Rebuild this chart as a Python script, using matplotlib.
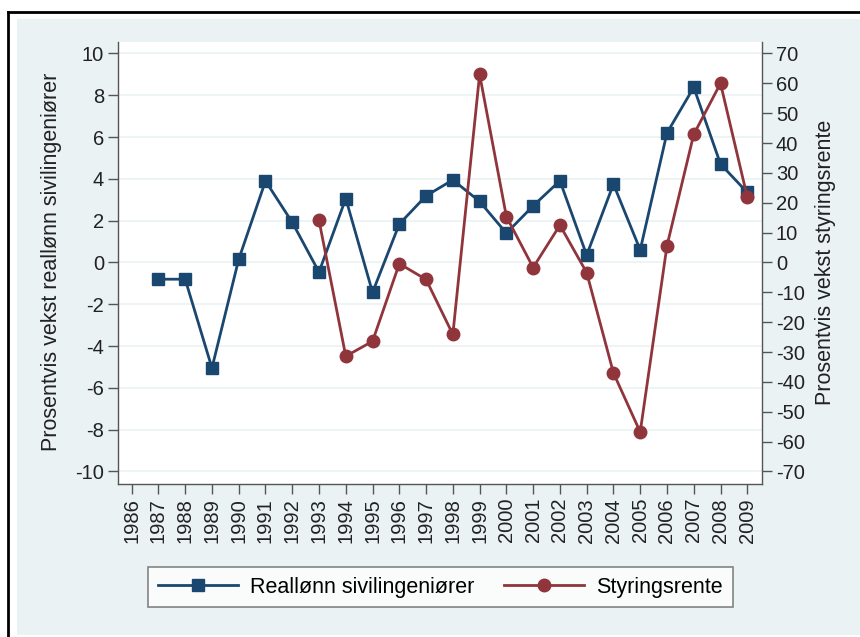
import matplotlib
matplotlib.use('Agg')
import matplotlib.pyplot as plt
from matplotlib.patches import Rectangle
from matplotlib.lines import Line2D

# ---------------- data ----------------
years = list(range(1986, 2010))
wage_years = list(range(1987, 2010))
wage_growth = [-0.8, -0.8, -5.05, 0.15, 3.9, 1.92, -0.46, 3.06, -1.43, 1.84, 3.19,
               3.95, 2.92, 1.4, 2.71, 3.91, 0.35, 3.75, 0.6, 6.2, 8.38, 4.71, 3.35]
rate_years = list(range(1993, 2010))
rate_growth = [14.1, -31.4, -26.4, -0.4, -5.7, -24.1, 63.0, 15.4, -1.7, 12.5, -3.4,
               -37.0, -56.8, 5.6, 42.9, 60.0, 21.9]
left_ticks = list(range(-10, 11, 2))
right_ticks = list(range(-70, 71, 10))
wage_label = "Reallønn sivilingeniører"
rate_label = "Styringsrente"
left_ylabel = "Prosentvis vekst reallønn sivilingeniører"
right_ylabel = "Prosentvis vekst styringsrente"

# ---------------- style ----------------
plt.rcParams['font.family'] = ['Liberation Sans', 'DejaVu Sans']
BLUE = '#1A476F'
RED = '#90353B'
BG = '#EAF2F3'
GRID = '#EAF2F3'
AXC = '#555555'
FS = 14.5
FSL = 15.5

W, H = 860, 637
fig = plt.figure(figsize=(W / 100, H / 100), dpi=100)
fig.patch.set_facecolor('white')

def fx(px):
    return px / W

def fy(py):
    return 1 - py / H

# light background region
fig.patches.append(Rectangle((fx(17), fy(635)), fx(W) - fx(17), fy(19) - fy(635),
                             transform=fig.transFigure, facecolor=BG, edgecolor='none', zorder=0))
# black outer border (top and left visible)
fig.lines.append(Line2D([fx(8), fx(8)], [fy(12), fy(H + 5)], transform=fig.transFigure,
                        color='black', linewidth=2))
fig.lines.append(Line2D([fx(8), fx(W + 5)], [fy(12), fy(12)], transform=fig.transFigure,
                        color='black', linewidth=2))

ax = fig.add_axes([fx(118), fy(484), fx(762) - fx(118), fy(42) - fy(484)])
ax.set_facecolor('white')
ax.set_zorder(1)

ax.set_xlim(1985.49, 2009.55)
ax.set_ylim(-10.6, 10.55)
ax.set_yticks(left_ticks)
ax.set_yticklabels([str(t) for t in left_ticks])
ax.set_xticks(years)
ax.set_xticklabels([str(y) for y in years], rotation=90)
ax.yaxis.grid(True, color=GRID, linewidth=1.2)
ax.set_axisbelow(True)

for s in ['top', 'right']:
    ax.spines[s].set_visible(False)
for s in ['left', 'bottom']:
    ax.spines[s].set_color(AXC)
    ax.spines[s].set_linewidth(1.0)

ax.tick_params(axis='both', direction='out', length=7, width=1, color=AXC,
               labelsize=FS, labelcolor='#222222', pad=3)

l1, = ax.plot(wage_years, wage_growth, color=BLUE, linewidth=2, marker='s',
              markersize=9, markerfacecolor=BLUE, markeredgecolor=BLUE, label=wage_label,
              zorder=3)

ax2 = ax.twinx()
ax2.set_ylim(-10.6 * 7, 10.55 * 7)
ax2.set_yticks(right_ticks)
ax2.set_yticklabels([str(t) for t in right_ticks])
for s in ['top', 'left', 'bottom']:
    ax2.spines[s].set_visible(False)
ax2.spines['right'].set_color(AXC)
ax2.spines['right'].set_linewidth(1.0)
ax2.tick_params(axis='y', direction='out', length=7, width=1, color=AXC,
                labelsize=FS, labelcolor='#222222', pad=3)

l2, = ax2.plot(rate_years, rate_growth, color=RED, linewidth=2, marker='o',
               markersize=9, markerfacecolor=RED, markeredgecolor=RED, label=rate_label,
               zorder=3)

fig.text(fx(52), fy(262), left_ylabel, rotation=90, ha='center', va='center',
         fontsize=FSL, color='#222222')
fig.text(fx(825), fy(262), right_ylabel, rotation=90, ha='center', va='center',
         fontsize=FSL, color='#222222')

leg = fig.legend(handles=[l1, l2], labels=[wage_label, rate_label], loc='center',
                 bbox_to_anchor=(fx(440.5), fy(587)), ncol=2, fontsize=FSL,
                 frameon=True, fancybox=False, handlelength=3.7, columnspacing=1.35,
                 handletextpad=0.6, borderpad=0.45, borderaxespad=0, edgecolor='#666666')
leg.get_frame().set_linewidth(1.2)
leg.get_frame().set_facecolor('white')

fig.savefig('out.png', dpi=100)
